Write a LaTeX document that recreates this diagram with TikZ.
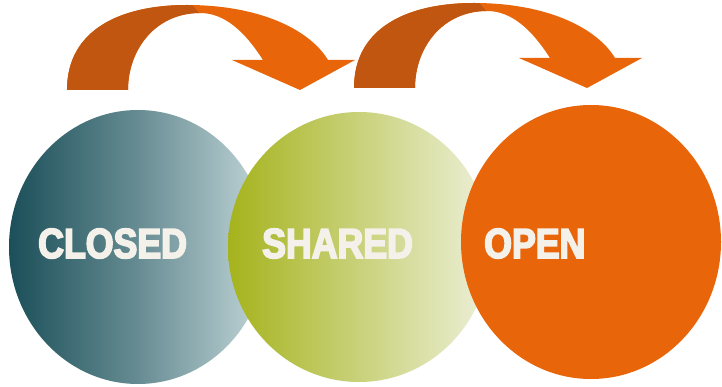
\documentclass[tikz,border=0pt]{standalone}
\usepackage{fontspec}
\newfontfamily\heavyfont{Liberation Sans}[UprightFont=* Bold, FakeBold=4, FakeStretch=0.85]
\definecolor{teal1}{HTML}{1B4F59}
\definecolor{teal2}{HTML}{C3D7D9}
\definecolor{olive1}{HTML}{A5B31C}
\definecolor{olive2}{HTML}{EDF0D9}
\definecolor{orangeA}{HTML}{E8650A}
\definecolor{orangeD}{HTML}{C0560F}
\definecolor{label}{HTML}{F4F1EA}
\tikzset{
  lbl/.style={font=\heavyfont\fontsize{42}{42}\selectfont, text=label, inner sep=0pt, anchor=base west},
}
\begin{document}
\begin{tikzpicture}[x=1pt,y=-1pt]
\useasboundingbox (0,0) rectangle (722,387);
\fill[white] (0,0) rectangle (722,387);
% circles
\shade[left color=teal1, right color=teal2, middle color=teal1!55!teal2] (138,247) ellipse [x radius=129, y radius=137];
\shade[left color=olive1, right color=olive2] (359,247) ellipse [x radius=131, y radius=135];
\fill[orangeA] (591,242) ellipse [x radius=130, y radius=137];
% labels
\node[lbl] (closed) at (38,258) {CLOSED};
\node[lbl] (shared) at (262,258) {SHARED};
\node[lbl] (open) at (484,258) {OPEN};
% arrows
\foreach \dx/\dy/\nm in {0/0/a, 287/-2/b}{
\begin{scope}[shift={(\dx,\dy)}]
  \path[fill=orangeA] (67,90) .. controls (67,30) and (120,5) .. (187,5)
     .. controls (260,5) and (310,30) .. (328,60)
     -- (355,60) -- (300,90) -- (232,60) -- (263,60)
     .. controls (245,32) and (225,13) .. (200,13)
     .. controls (155,13) and (128,50) .. (128,90) -- cycle;
  \begin{scope}
    \clip (0,0) -- (188,0) -- (200,14) -- (200,100) -- (0,100) -- cycle;
    \path[fill=orangeD] (67,90) .. controls (67,30) and (120,5) .. (187,5)
     .. controls (260,5) and (310,30) .. (328,60)
     -- (355,60) -- (300,90) -- (232,60) -- (263,60)
     .. controls (245,32) and (225,13) .. (200,13)
     .. controls (155,13) and (128,50) .. (128,90) -- cycle;
  \end{scope}
\end{scope}
}
\end{tikzpicture}
\end{document}
